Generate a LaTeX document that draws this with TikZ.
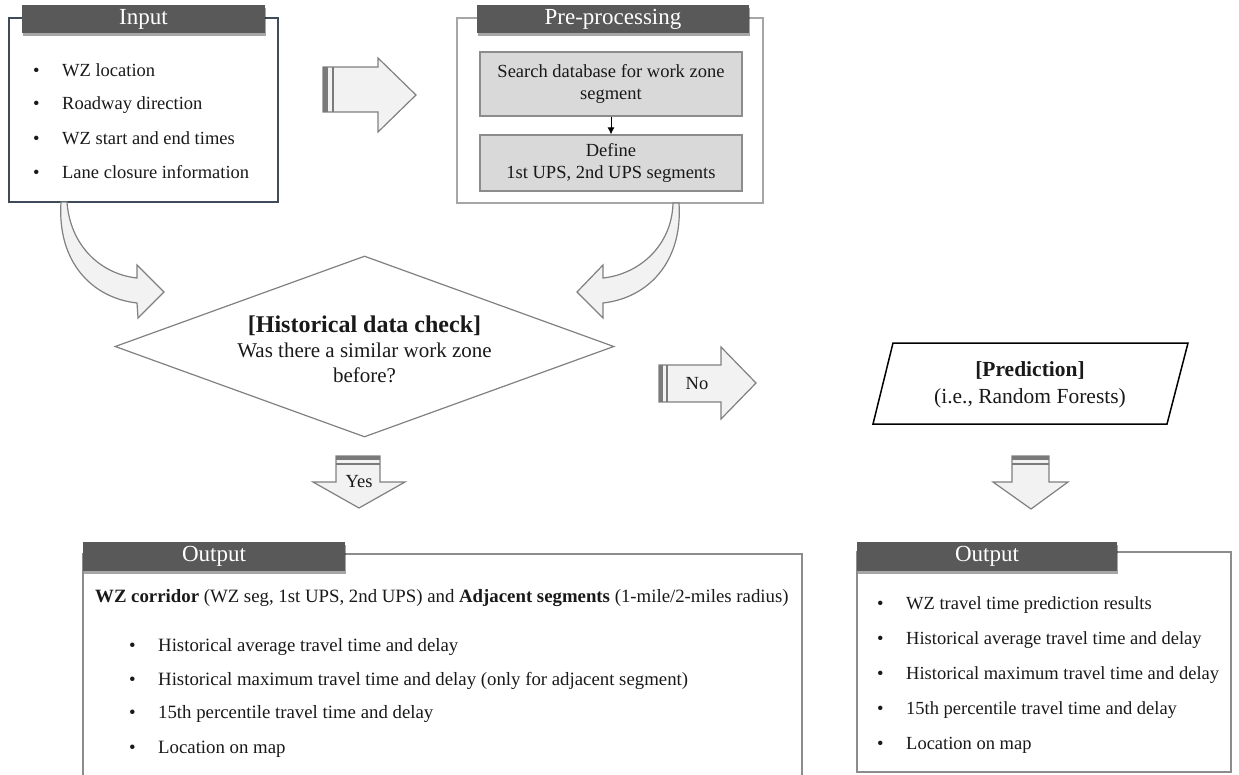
\documentclass[tikz,border=0pt]{standalone}
\usepackage{fontspec}
\setmainfont{Liberation Serif}
\usetikzlibrary{shapes.geometric, shadows, arrows.meta, positioning}

\definecolor{bargray}{HTML}{595959}
\definecolor{arrowfill}{HTML}{F2F2F2}
\definecolor{arrowline}{HTML}{808080}
\definecolor{stripe}{HTML}{7A7A7A}
\definecolor{innerfill}{HTML}{D9D9D9}
\definecolor{innerline}{HTML}{8C8C8C}
\definecolor{inline}{HTML}{3F4A5A}
\definecolor{preline}{HTML}{A6A6A6}
\definecolor{outline}{HTML}{8C8C8C}

\newcommand{\bul}{\makebox[29pt][l]{\textbullet}}

\begin{document}
\begin{tikzpicture}[x=1pt, y=-1pt,
    every node/.style={font=\fontsize{18.5}{22}\selectfont, inner sep=0pt, text=black!90},
    titlebar/.style={fill=bargray, text=white, font=\fontsize{23}{26}\selectfont,
        drop shadow={shadow xshift=1pt, shadow yshift=-2.5pt, opacity=.35, fill=black}},
    item/.style={anchor=west},
    wideitem/.style={anchor=west, font=\fontsize{18.8}{22}\selectfont},
    fatarrow/.style={fill=arrowfill, draw=arrowline, line width=1.2pt, line join=miter},
    stripes/.style={fill=stripe, draw=none},
    inner/.style={draw=innerline, fill=innerfill, line width=1.2pt, align=center}]
    \useasboundingbox (0,0) rectangle (1239,774);

    % input
    \node[draw=inline, line width=1.5pt, minimum width=269pt, minimum height=184pt] (inp) at (143.5,110) {};
    \node[titlebar, minimum width=243pt, minimum height=28pt] (inptitle) at (143.5,19) {Input};
    \node[item] (in1) at (33,70) {\bul WZ location};
    \node[item] (in2) at (33,105) {\bul Roadway direction};
    \node[item] (in3) at (33,138) {\bul WZ start and end times};
    \node[item] (in4) at (33,172) {\bul Lane closure information};

    % input -> pre-processing
    \draw[fatarrow] (323,67) -- (378,67) -- (378,58) -- (416,95) -- (378,132) -- (378,112) -- (323,112) -- cycle;
    \fill[stripes] (323,67) rectangle (328,112);
    \draw[stripe, line width=1.5pt] (333,67) -- (333,112);

    % pre-processing
    \node[draw=preline, line width=1.2pt, minimum width=306pt, minimum height=185pt] (pre) at (610,110.5) {};
    \node[titlebar, minimum width=272pt, minimum height=28pt] (pretitle) at (613,19) {Pre-processing};
    \node[inner, minimum width=262pt, minimum height=64pt] (search) at (611,84) {Search database for work zone\\segment};
    \node[inner, minimum width=262pt, minimum height=56pt] (define) at (611,163) {Define\\1st UPS, 2nd UPS segments};
    \draw[-{Latex[length=7pt,width=7pt]}, line width=1pt, black] (search) -- (define);

    % curved arrows into the check
    \draw[fatarrow] (61,202) .. controls (57,262) and (92,298) .. (137,303) -- (138,318) -- (164,292)
        -- (137,265) -- (137,278) .. controls (100,274) and (70,245) .. (67,202) -- cycle;
    \draw[fatarrow] (679,203) .. controls (683,262) and (648,298) .. (603,303) -- (603,318) -- (577,292)
        -- (603,265) -- (603,278) .. controls (640,274) and (672,245) .. (673,203) -- cycle;

    % historical data check
    \node[diamond, draw=arrowline, line width=1.2pt, minimum width=499pt, minimum height=181pt] (check) at (364.5,346.5) {};
    \node[align=center, font=\fontsize{21}{25}\selectfont] (checktxt) at (364.5,349)
        {{\fontsize{24}{25}\selectfont\bfseries [Historical data check]}\\Was there a similar work zone\\before?};

    % no
    \draw[fatarrow] (659,365) -- (721,365) -- (721,347) -- (756,383) -- (721,419) -- (721,402) -- (659,402) -- cycle;
    \fill[stripes] (659,365) rectangle (663,402);
    \draw[stripe, line width=1.5pt] (667,365) -- (667,402);
    \node (no) at (697,384) {No};

    % prediction
    \draw[black, line width=1.5pt, line join=miter] (893,343) -- (1188,343) -- (1167,424) -- (873,424) -- cycle;
    \node[align=center, font=\fontsize{21.5}{27}\selectfont] (pred) at (1030,385)
        {\textbf{[Prediction]}\\(i.e., Random Forests)};

    % yes
    \draw[fatarrow] (336,456) -- (380,456) -- (380,482) -- (405,482) -- (359,508) -- (313,482) -- (336,482) -- cycle;
    \fill[stripes] (336,456) rectangle (380,460);
    \draw[stripe, line width=1.5pt] (336,464) -- (380,464);
    \node (yes) at (359,482) {Yes};

    % prediction -> output
    \draw[fatarrow] (1012,456) -- (1049,456) -- (1049,482) -- (1068,482) -- (1031,509) -- (993,482) -- (1012,482) -- cycle;
    \fill[stripes] (1012,456) rectangle (1049,460);
    \draw[stripe, line width=1.5pt] (1012,464) -- (1049,464);

    % output (historical)
    \node[draw=outline, line width=1.2pt, minimum width=719pt, minimum height=226pt] (outl) at (442.5,667) {};
    \node[titlebar, minimum width=262pt, minimum height=29pt] (outltitle) at (214,556.5) {Output};
    \node[wideitem] (corr) at (95,598) {\textbf{WZ corridor} (WZ seg, 1st UPS, 2nd UPS) and \textbf{Adjacent segments} (1-mile/2-miles radius)};
    \node[wideitem] (ol1) at (129,647) {\bul Historical average travel time and delay};
    \node[wideitem] (ol2) at (129,681) {\bul Historical maximum travel time and delay (only for adjacent segment)};
    \node[wideitem] (ol3) at (129,714) {\bul 15th percentile travel time and delay};
    \node[wideitem] (ol4) at (129,749) {\bul Location on map};

    % output (prediction)
    \node[draw=outline, line width=1.2pt, minimum width=374pt, minimum height=220pt] (outr) at (1044,662) {};
    \node[titlebar, minimum width=260pt, minimum height=29pt] (outrtitle) at (987,556.5) {Output};
    \node[item] (or1) at (877,605) {\bul WZ travel time prediction results};
    \node[item] (or2) at (877,640) {\bul Historical average travel time and delay};
    \node[item] (or3) at (877,675) {\bul Historical maximum travel time and delay};
    \node[item] (or4) at (877,710) {\bul 15th percentile travel time and delay};
    \node[item] (or5) at (877,745) {\bul Location on map};
\end{tikzpicture}
\end{document}
